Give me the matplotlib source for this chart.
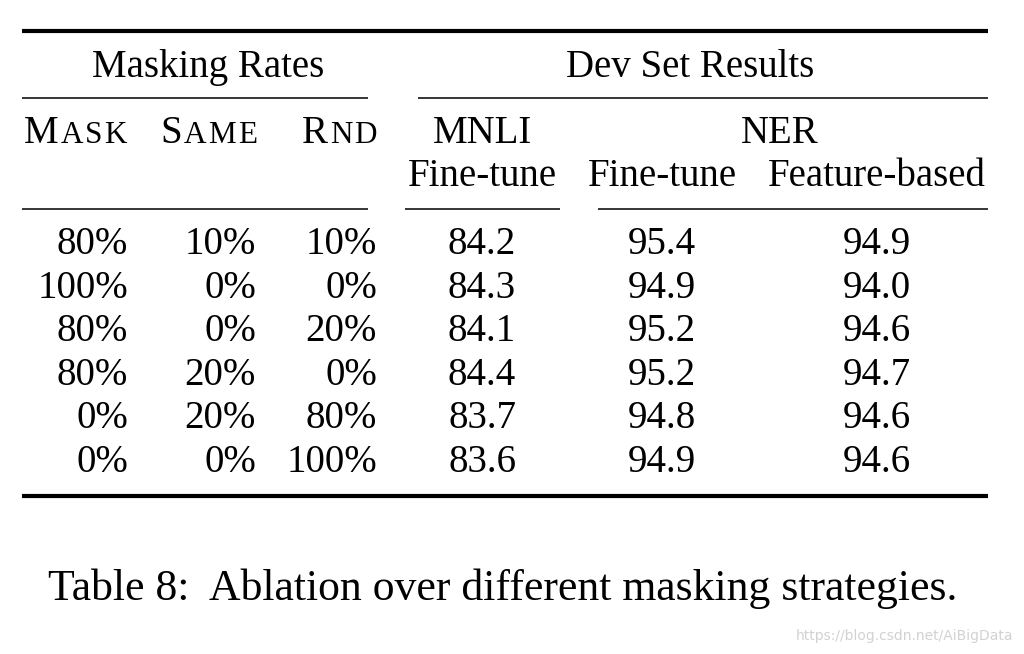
import matplotlib
matplotlib.use("Agg")
import matplotlib.pyplot as plt

plt.rcParams['font.family'] = ['Liberation Serif', 'DejaVu Serif']

mask_rates = ["80%", "100%", "80%", "80%", "0%", "0%"]
same_rates = ["10%", "0%", "0%", "20%", "20%", "0%"]
rnd_rates = ["10%", "0%", "20%", "0%", "80%", "100%"]
mnli_finetune = [84.2, 84.3, 84.1, 84.4, 83.7, 83.6]
ner_finetune = [95.4, 94.9, 95.2, 95.2, 94.8, 94.9]
ner_feature = [94.9, 94.0, 94.6, 94.7, 94.6, 94.6]

caption = "Table 8:  Ablation over different masking strategies."
watermark = "https://blog.csdn.net/AiBigData"

W, H = 1024, 654
fs = 28
fig = plt.figure(figsize=(W / 100, H / 100), dpi=100)
ax = fig.add_axes([0, 0, 1, 1])
ax.set_xlim(0, W)
ax.set_ylim(H, 0)
ax.axis('off')


def rule(x0, x1, y, lw):
    ax.plot([x0, x1], [y, y], color='black', lw=lw, solid_capstyle='butt')


def small_caps(word, x, y, ha='left', gap=2.0):
    # first letter full size, the rest as spaced reduced capitals
    renderer = fig.canvas.get_renderer()
    pieces = [ax.text(x, y, word[0], fontsize=fs, va='baseline', ha='left')]
    for ch in word[1:].upper():
        pieces.append(ax.text(x, y, ch, fontsize=fs * 0.8, va='baseline', ha='left'))
    widths = [p.get_window_extent(renderer).width for p in pieces]
    total = sum(widths) + gap * (len(pieces) - 1)
    pos = x - total if ha == 'right' else x
    for p, w in zip(pieces, widths):
        p.set_x(pos)
        pos += w + gap


# rules
rule(22, 988, 31, 3.0)
rule(22, 368, 98, 1.1)
rule(418, 988, 98, 1.1)
rule(22, 368, 209, 1.1)
rule(405, 560, 209, 1.1)
rule(598, 988, 209, 1.1)
rule(22, 988, 496, 3.0)

# headers
ax.text(208, 77, "Masking Rates", fontsize=fs, ha='center', va='baseline')
ax.text(690, 77, "Dev Set Results", fontsize=fs, ha='center', va='baseline')
small_caps("Mask", 24, 143)
small_caps("Same", 160, 143)
small_caps("Rnd", 377, 143, ha='right')
ax.text(482, 143, "MNLI", fontsize=fs, ha='center', va='baseline')
ax.text(780, 143, "NER", fontsize=fs, ha='center', va='baseline')
ax.text(482, 186, "Fine-tune", fontsize=fs, ha='center', va='baseline')
ax.text(662, 186, "Fine-tune", fontsize=fs, ha='center', va='baseline')
ax.text(877, 186, "Feature-based", fontsize=fs, ha='center', va='baseline')

# body
y0, dy = 254, 43.6
for i in range(len(mask_rates)):
    y = y0 + i * dy
    ax.text(128, y, mask_rates[i], fontsize=fs, ha='right', va='baseline')
    ax.text(256, y, same_rates[i], fontsize=fs, ha='right', va='baseline')
    ax.text(377, y, rnd_rates[i], fontsize=fs, ha='right', va='baseline')
    ax.text(482, y, f"{mnli_finetune[i]:.1f}", fontsize=fs, ha='center', va='baseline')
    ax.text(662, y, f"{ner_finetune[i]:.1f}", fontsize=fs, ha='center', va='baseline')
    ax.text(877, y, f"{ner_feature[i]:.1f}", fontsize=fs, ha='center', va='baseline')

ax.text(48, 600, caption, fontsize=31.5, ha='left', va='baseline')
ax.text(1013, 640, watermark, fontsize=10, ha='right', va='baseline',
        color='#d2d2d2', family='DejaVu Sans')

fig.savefig("out.png", dpi=100)
